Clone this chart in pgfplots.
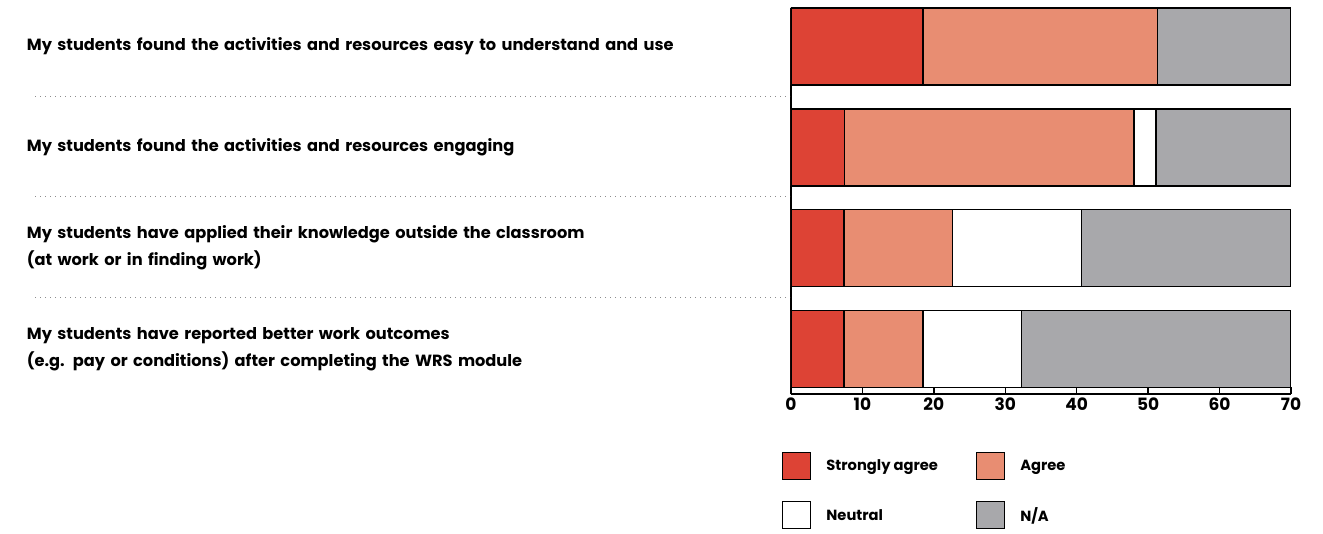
\documentclass[border=0pt]{standalone}
\usepackage{fontspec}
\setmainfont{Poppins}
\usepackage{pgfplots}
\pgfplotsset{compat=1.18}
\definecolor{sa}{HTML}{DD4335}
\definecolor{ag}{HTML}{E88D72}
\definecolor{na}{HTML}{A8A8AB}
\pgfplotsset{
  legsq/.style={legend image code/.code={\draw[##1,line width=1.2pt] (0pt,-13.5pt) rectangle (28pt,13.5pt);}},
  barsty/.style={draw=black, line width=1.4pt, legsq}
}
\begin{document}
\begin{tikzpicture}
\useasboundingbox (0,0) rectangle (1323pt,533pt);
\begin{axis}[
  at={(791pt,139pt)}, anchor=south west, scale only axis,
  width=500pt, height=386pt,
  xbar stacked, bar width=77pt,
  xmin=0, xmax=70, ymin=-0.446, ymax=3.382,
  enlargelimits=false,
  axis x line=bottom, axis y line=left,
  axis line style={-, line width=1.6pt},
  xtick={0,10,...,70},
  xtick align=inside, major tick length=6.5pt,
  xtick style={line width=1.4pt, black},
  ytick={0,1,2,3},
  yticklabels={{My students have reported better work outcomes\\(e.g. pay or conditions) after completing the WRS module},
               {My students have applied their knowledge outside the classroom\\(at work or in finding work)},
               {My students found the activities and resources engaging},
               {My students found the activities and resources easy to understand and use}},
  ytick style={draw=none},
  yticklabel style={anchor=west, xshift=-761pt, text width=740pt, align=left, inner sep=0pt,
                    font=\fontsize{16.2}{27}\selectfont\bfseries},
  xticklabel style={font=\fontsize{17}{20}\selectfont\bfseries},
  /pgf/number format/assume math mode=true,
  legend columns=2,
  legend cell align=left,
  legend style={at={(-0.018,-0.150)}, anchor=north west, draw=none, fill=none, inner sep=0pt,
                row sep=21pt, font=\fontsize{14.7}{18}\selectfont\bfseries,
                /tikz/every odd column/.append style={column sep=13pt},
                /tikz/every even column/.append style={column sep=36pt}},
]
\addplot[fill=sa, barsty] coordinates {(7.4,0) (7.4,1) (7.5,2) (18.5,3)};
\addplot[fill=ag, barsty] coordinates {(11.1,0) (15.2,1) (40.5,2) (32.8,3)};
\addplot[fill=white, barsty] coordinates {(13.8,0) (18.1,1) (3.1,2) (0,3)};
\addplot[fill=na, barsty] coordinates {(37.7,0) (29.3,1) (18.9,2) (18.7,3)};
\legend{Strongly agree, Agree, Neutral, N/A}
\end{axis}
\foreach \yy in {436,336,235}{
  \draw[black!45, line width=1pt, dash pattern=on 1pt off 4pt] (35pt,\yy pt) -- (790pt,\yy pt);
}
\end{tikzpicture}
\end{document}
